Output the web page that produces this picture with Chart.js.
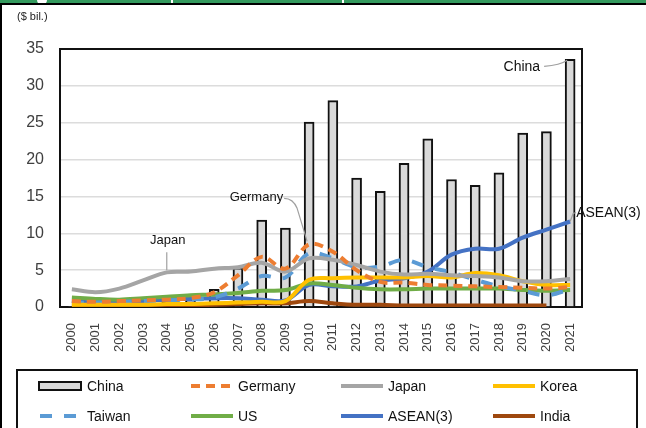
<!DOCTYPE html>
<html>
<head>
<meta charset="utf-8">
<script src="https://cdn.jsdelivr.net/npm/chart.js@4"></script>
<style>
  html, body { margin: 0; padding: 0; background: #fff; }
  canvas { display: block; }
</style>
</head>
<body>
<canvas id="fdiChart" width="646" height="428"></canvas>
<script>
  // outward FDI, $ bil.
  const years = ['2000', '2001', '2002', '2003', '2004', '2005', '2006', '2007', '2008', '2009', '2010',
    '2011', '2012', '2013', '2014', '2015', '2016', '2017', '2018', '2019', '2020', '2021']
  const china = [0.1, 0.1, 0.2, 0.5, 0.7, 1.0, 2.4, 5.3, 11.8, 10.7, 25.1, 28.0, 17.5, 15.7, 19.5, 22.8, 17.3, 16.5, 18.2, 23.6, 23.8, 33.6]
  const germany = [0.8, 0.7, 0.8, 0.9, 1.0, 1.2, 2.0, 4.3, 6.8, 5.2, 8.5, 7.5, 5.0, 3.4, 3.3, 3.0, 2.9, 2.8, 2.7, 2.6, 2.5, 2.7]
  const japan = [2.4, 2.0, 2.5, 3.6, 4.7, 4.8, 5.2, 5.4, 6.0, 4.8, 6.6, 6.4, 5.7, 4.8, 4.4, 4.5, 4.3, 4.2, 4.0, 3.5, 3.5, 3.8]
  const korea = [0.3, 0.3, 0.3, 0.3, 0.4, 0.4, 0.5, 0.6, 0.7, 0.8, 3.7, 3.9, 4.0, 4.0, 4.0, 4.2, 4.0, 4.6, 4.3, 3.5, 3.0, 3.0]
  const taiwan = [0.6, 0.6, 0.7, 0.8, 0.9, 1.0, 1.3, 2.5, 4.2, 4.0, 7.3, 6.6, 5.4, 5.5, 6.4, 5.4, 4.7, 3.7, 2.8, 2.2, 1.6, 2.4]
  const us = [1.3, 1.1, 1.0, 1.2, 1.4, 1.6, 1.7, 1.9, 2.2, 2.3, 3.2, 3.0, 2.6, 2.4, 2.4, 2.5, 2.5, 2.5, 2.5, 2.3, 2.2, 2.3]
  const asean = [0.8, 0.6, 0.7, 0.8, 1.0, 1.1, 1.2, 1.2, 1.0, 0.9, 3.0, 2.8, 2.8, 3.6, 3.9, 4.8, 7.1, 7.9, 7.9, 9.4, 10.5, 11.6]
  const india = [0.1, 0.1, 0.1, 0.1, 0.2, 0.2, 0.3, 0.4, 0.5, 0.5, 0.8, 0.5, 0.3, 0.3, 0.2, 0.2, 0.2, 0.2, 0.2, 0.2, 0.2, null]
  const yTicks = [0, 5, 10, 15, 20, 25, 30, 35]

  const FONT = '"Liberation Sans", Arial, sans-serif'

  function line(label, data, color, dash) {
    return {
      type: 'line', label, data,
      borderColor: color, backgroundColor: color,
      borderWidth: 4, borderDash: dash || [],
      pointRadius: 0, tension: 0.35, order: 1,
      spanGaps: false
    }
  }

  const datasets = [
    { type: 'bar', label: 'China', data: china, backgroundColor: '#d9d9d9', borderColor: '#111',
      borderWidth: 2, barThickness: 10, order: 10 },
    line('Germany', germany, '#ed7d31', [9, 6]),
    line('Japan', japan, '#a5a5a5'),
    line('Korea', korea, '#ffc000'),
    line('Taiwan', taiwan, '#5b9bd5', [12, 12]),
    line('US', us, '#70ad47'),
    line('ASEAN(3)', asean, '#4472c4'),
    line('India', india, '#9e480e')
  ]

  // page frame, top strip, plot border
  const framePlugin = {
    id: 'frame',
    beforeDraw(chart) {
      const c = chart.ctx
      c.save()
      c.fillStyle = '#fff'
      c.fillRect(0, 0, chart.width, chart.height)
      c.fillStyle = '#349a5e'
      c.fillRect(0, 0, chart.width, 3)
      c.fillStyle = '#fff'
      c.beginPath(); c.arc(42, 0, 5, 0, Math.PI); c.fill()
      c.fillRect(171, 0, 2, 3)
      c.fillRect(342, 0, 2, 3)
      c.fillStyle = '#000'
      c.fillRect(0, 3, chart.width, 2)
      c.fillRect(0, 3, 2, chart.height)
      c.fillStyle = '#222'
      c.font = '11px ' + FONT
      c.textBaseline = 'middle'
      c.fillText('($ bil.)', 17, 17)
      c.restore()
    },
    beforeDatasetsDraw(chart) {
      const a = chart.chartArea
      const c = chart.ctx
      c.save()
      c.strokeStyle = '#111'
      c.lineWidth = 2
      c.strokeRect(a.left, a.top, a.right - a.left, a.bottom - a.top)
      c.restore()
    }
  }

  // callout labels with thin grey leader lines
  const calloutPlugin = {
    id: 'callouts',
    afterDatasetsDraw(chart) {
      const c = chart.ctx
      const xs = chart.scales.x, ys = chart.scales.y
      const pt = (arr, i) => ({ x: xs.getPixelForValue(i), y: ys.getPixelForValue(arr[i]) })
      c.save()
      c.strokeStyle = '#a0a0a0'
      c.lineWidth = 1.2
      c.fillStyle = '#111'
      c.textBaseline = 'middle'

      const ch = pt(china, 21)
      c.beginPath(); c.moveTo(ch.x - 26, ch.y + 7); c.quadraticCurveTo(ch.x - 10, ch.y + 6, ch.x - 3, ch.y + 1); c.stroke()
      c.font = '14px ' + FONT; c.textAlign = 'right'
      c.fillText('China', ch.x - 30, ch.y + 8)

      const as = pt(asean, 21)
      c.beginPath(); c.moveTo(as.x, as.y); c.lineTo(as.x + 3, as.y - 8); c.lineTo(as.x + 6, as.y - 9); c.stroke()
      c.font = '14px ' + FONT; c.textAlign = 'left'
      c.fillText('ASEAN(3)', as.x + 6, as.y - 8)

      const ge = pt(germany, 10)
      c.beginPath(); c.moveTo(ge.x - 25, ge.y - 46); c.quadraticCurveTo(ge.x - 16, ge.y - 46, ge.x - 12, ge.y - 36)
      c.lineTo(ge.x - 2, ge.y - 3); c.stroke()
      c.font = '13px ' + FONT; c.textAlign = 'right'
      c.fillText('Germany', ge.x - 26, ge.y - 47)

      const ja = pt(japan, 4)
      c.beginPath(); c.moveTo(ja.x, ja.y - 20); c.lineTo(ja.x, ja.y - 2); c.stroke()
      c.font = '13px ' + FONT; c.textAlign = 'center'
      c.fillText('Japan', ja.x + 1, ja.y - 32)
      c.restore()
    }
  }

  // boxed legend below the axis, 4 columns x 2 rows
  const legendPlugin = {
    id: 'boxLegend',
    afterDraw(chart) {
      const c = chart.ctx
      const cols = [39, 190, 340, 492]
      const rows = [386, 416]
      c.save()
      c.strokeStyle = '#111'
      c.lineWidth = 2
      c.strokeRect(17, 370, 620, 80)
      c.font = '14px ' + FONT
      c.textBaseline = 'middle'
      c.textAlign = 'left'
      chart.data.datasets.forEach((ds, i) => {
        const x = cols[i % 4], y = rows[Math.floor(i / 4)]
        if (ds.type === 'bar') {
          c.fillStyle = ds.backgroundColor
          c.fillRect(x, y - 4, 42, 8)
          c.lineWidth = 2
          c.strokeStyle = ds.borderColor
          c.strokeRect(x, y - 4, 42, 8)
        } else {
          c.strokeStyle = ds.borderColor
          c.lineWidth = 4
          c.setLineDash(ds.borderDash)
          c.beginPath(); c.moveTo(x + 1, y); c.lineTo(x + 43, y); c.stroke()
          c.setLineDash([])
        }
        c.fillStyle = '#111'
        c.fillText(ds.label, x + 48, y + 1)
      })
      c.restore()
    }
  }

  new Chart(document.getElementById('fdiChart'), {
    data: { labels: years, datasets },
    options: {
      responsive: false,
      animation: false,
      layout: { padding: { top: 49, right: 64, left: 0, bottom: 0 } },
      plugins: { legend: { display: false }, tooltip: { enabled: false } },
      scales: {
        x: {
          offset: true,
          grid: { display: false },
          border: { display: false },
          ticks: { minRotation: 90, maxRotation: 90, padding: 8, color: '#404040', font: { family: FONT, size: 13 } },
          afterFit(s) { s.height = 121 }
        },
        y: {
          min: 0, max: 35,
          afterBuildTicks(s) { s.ticks = yTicks.map(v => ({ value: v })) },
          grid: { color: '#dcdcdc', lineWidth: 1.5, drawTicks: false },
          border: { display: false },
          ticks: { padding: 16, color: '#404040', font: { family: FONT, size: 16 } },
          afterFit(s) { s.width = 60 }
        }
      }
    },
    plugins: [framePlugin, calloutPlugin, legendPlugin]
  })
</script>
</body>
</html>
